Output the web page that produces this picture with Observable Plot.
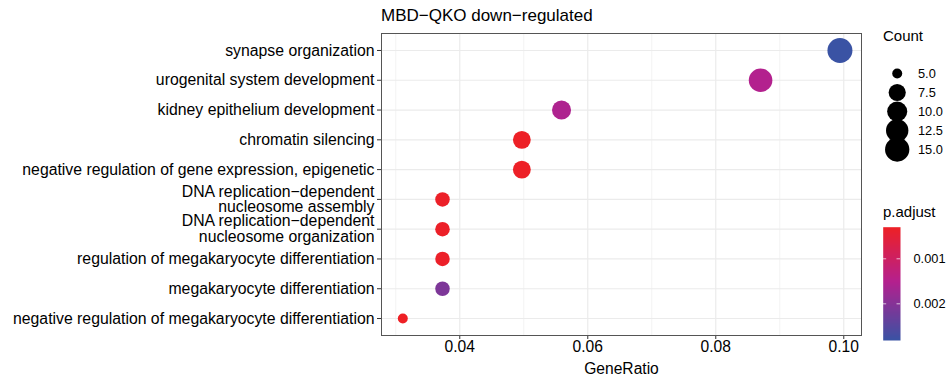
<!DOCTYPE html>
<html><head><meta charset="utf-8">
<script src="https://cdn.jsdelivr.net/npm/d3@7"></script>
<script src="https://cdn.jsdelivr.net/npm/@observablehq/plot@0.6"></script>
<style>
body{margin:0;background:#fff;font-family:"Liberation Sans",Arial,sans-serif;color:#000;}
#wrap{position:relative;width:947px;height:378px;overflow:hidden;}
#wrap svg{position:absolute;}
.lbl{position:absolute;white-space:nowrap;font-family:"Liberation Sans",Arial,sans-serif;color:#000;}
</style></head><body><div id="wrap"></div>
<script>
// ---- data ----
const terms = [
  "synapse organization",
  "urogenital system development",
  "kidney epithelium development",
  "chromatin silencing",
  "negative regulation of gene expression, epigenetic",
  "DNA replication\u2212dependent\nnucleosome assembly",
  "DNA replication\u2212dependent\nnucleosome organization",
  "regulation of megakaryocyte differentiation",
  "megakaryocyte differentiation",
  "negative regulation of megakaryocyte differentiation"
];
const geneRatio = [0.0994, 0.0870, 0.0559, 0.0497, 0.0497, 0.0373, 0.0373, 0.0373, 0.0373, 0.0311];
const counts = [16, 14, 9, 8, 8, 6, 6, 6, 6, 5];
const pAdjust = [0.00281, 0.00152, 0.00158, 0.00031, 0.00032, 0.00033, 0.00033, 0.00034, 0.00210, 0.00030];
const xTicks = [0.04, 0.06, 0.08, 0.10];
const xMinor = [0.03, 0.05, 0.07, 0.09];
const sizeBreaks = [5, 7.5, 10, 12.5, 15];
const colorTicks = [0.001, 0.002];
const pRange = [0.000298, 0.002815];

const data = terms.map((t, i) => ({term: t, ratio: geneRatio[i], count: counts[i], p: pAdjust[i]}));

const FONT = "Liberation Sans, Arial, Helvetica, sans-serif";
const rScale = {type: "linear", transform: c => Math.sqrt(Math.max(0, c - 5)), domain: [0, Math.sqrt(11)], range: [5, 12.5]};
const colorScale = {type: "linear", domain: [pRange[0], 0.00150, pRange[1]], range: ["#EE2025", "#B5208E", "#3A53A4"]};

const wrap = document.getElementById("wrap");

const main = Plot.plot({
  width: 947, height: 378,
  marginLeft: 381, marginRight: 86, marginTop: 33, marginBottom: 43,
  style: {fontFamily: FONT, fontSize: "15.8px", color: "#000", background: "transparent", overflow: "visible"},
  x: {domain: [0.02777, 0.10277], label: null},
  y: {type: "point", domain: terms, padding: 0.57, round: false, label: null},
  r: rScale,
  color: colorScale,
  marks: [
    Plot.gridX(xMinor, {stroke: "#ebebeb", strokeWidth: 0.6, strokeOpacity: 1}),
    Plot.gridX(xTicks, {stroke: "#ebebeb", strokeWidth: 1.2, strokeOpacity: 1}),
    Plot.gridY(terms, {stroke: "#ebebeb", strokeWidth: 1.2, strokeOpacity: 1}),
    Plot.axisX(xTicks, {tickSize: 4, tickPadding: 1.5, stroke: "#333", fill: "#000", fontSize: 15.6,
      tickFormat: d3.format(".2f"), label: "GeneRatio", labelAnchor: "center", labelArrow: "none", labelOffset: 38}),
    Plot.axisY({tickSize: 4, tickPadding: 3, stroke: "#333", fill: "#000", fontSize: 15.8, lineHeight: 1.0, label: null}),
    Plot.dot(data, {x: "ratio", y: "term", r: "count", fill: "p"}),
    Plot.frame({stroke: "#555", strokeWidth: 1})
  ]
});
main.style.left = "0px"; main.style.top = "0px";
wrap.appendChild(main);

// titles
function addLabel(text, left, top, size) {
  const d = document.createElement("div");
  d.className = "lbl";
  d.textContent = text;
  d.style.left = left + "px"; d.style.top = top + "px";
  d.style.fontSize = size + "px"; d.style.lineHeight = "18px";
  wrap.appendChild(d);
}
addLabel("MBD\u2212QKO down\u2212regulated", 381, 7, 17);
addLabel("Count", 883, 27, 15);
addLabel("p.adjust", 883, 203, 15);

// size legend
const sizeData = sizeBreaks.map(v => ({v, label: v.toFixed(1)}));
const sizeLegend = Plot.plot({
  width: 77, height: 130, marginLeft: 0, marginRight: 0, marginTop: 0, marginBottom: 0,
  style: {fontFamily: FONT, fontSize: "12.8px", background: "transparent", overflow: "visible"},
  y: {type: "point", domain: sizeData.map(d => d.label), range: [16.7, 115], axis: null},
  r: rScale,
  marks: [
    Plot.dot(sizeData, {y: "label", r: "v", fill: "#000", frameAnchor: "left", dx: 26.7}),
    Plot.text(sizeData, {y: "label", text: "label", frameAnchor: "left", dx: 47.5, textAnchor: "start", fill: "#000", fontSize: 12.8})
  ]
});
sizeLegend.style.left = "870px"; sizeLegend.style.top = "45px";
wrap.appendChild(sizeLegend);

// color bar
const colorLegend = Plot.plot({
  width: 77, height: 135, marginLeft: 12.7, marginRight: 47, marginTop: 11.7, marginBottom: 10,
  style: {fontFamily: FONT, fontSize: "12.8px", background: "transparent", overflow: "visible"},
  x: {domain: [0, 1], axis: null},
  y: {domain: [pRange[1], pRange[0]], axis: null},
  color: colorScale,
  marks: [
    Plot.raster({x1: 0, x2: 1, y1: pRange[1], y2: pRange[0], fill: (x, y) => y, pixelSize: 1, imageRendering: "auto"}),
    Plot.ruleY(colorTicks, {x1: 0, x2: 0.2, stroke: "#fff", strokeOpacity: 0.7}),
    Plot.ruleY(colorTicks, {x1: 0.8, x2: 1, stroke: "#fff", strokeOpacity: 0.7}),
    Plot.axisY(colorTicks, {anchor: "right", tickSize: 0, tickPadding: 13, fontSize: 12.8, fill: "#000", tickFormat: d3.format(".3f"), label: null})
  ]
});
colorLegend.style.left = "870px"; colorLegend.style.top = "215px";
wrap.appendChild(colorLegend);
</script>
</body></html>
